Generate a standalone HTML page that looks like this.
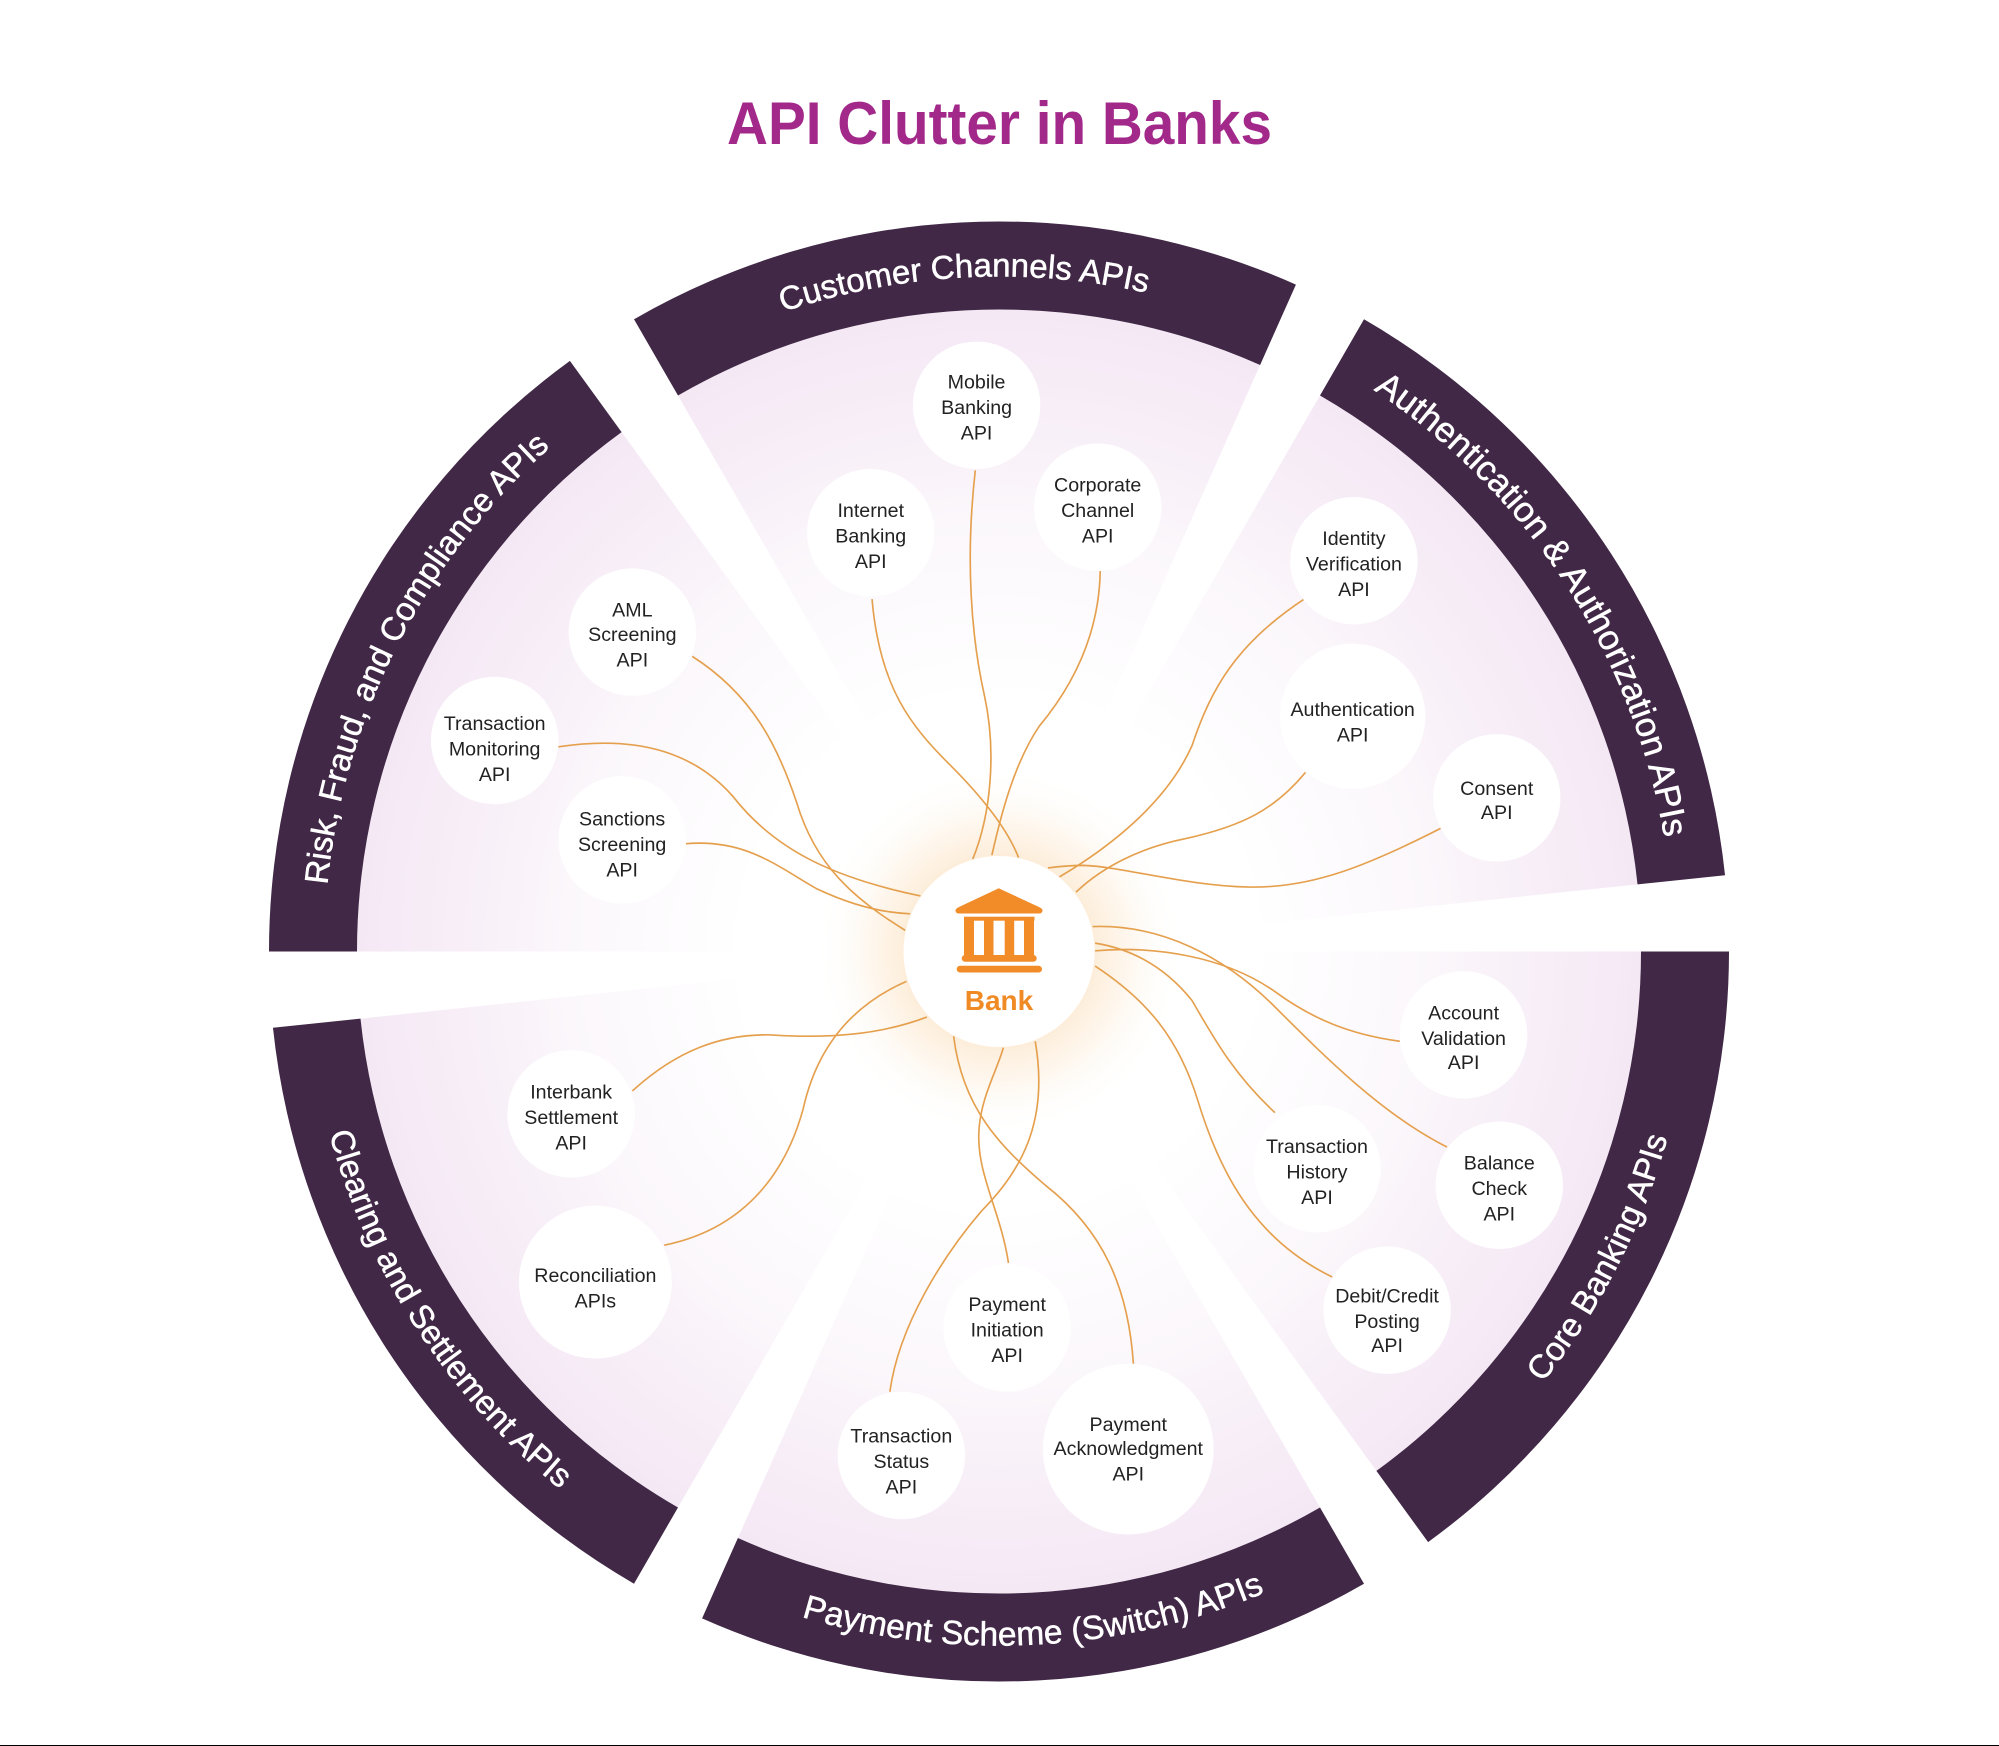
<!DOCTYPE html>
<html><head><meta charset="utf-8"><title>API Clutter in Banks</title>
<style>
html,body{margin:0;padding:0;background:#fff;width:1999px;height:1746px;overflow:hidden}
svg{display:block}
text{font-family:"Liberation Sans",sans-serif}
.band{fill:#412846}
.wedge{fill:url(#wg)}
.bt{fill:#fff;font-size:33px;text-anchor:middle;stroke:#fff;stroke-width:.5}
.c{fill:#fff}
.l{fill:#222;font-size:15.4px;text-anchor:middle}
.w{fill:none;stroke:#e5a04e;stroke-width:1.3}
</style></head>
<body>
<svg xmlns="http://www.w3.org/2000/svg" width="1999" height="1746" viewBox="0 0 1999 1746">
<defs>
<radialGradient id="wg" gradientUnits="userSpaceOnUse" cx="0" cy="0" r="642">
<stop offset="0" stop-color="#fff"/><stop offset=".4" stop-color="#fff"/><stop offset=".68" stop-color="#fbf7fb"/><stop offset=".85" stop-color="#f7eef7"/><stop offset="1" stop-color="#f4e8f4"/>
</radialGradient>
<radialGradient id="halo" gradientUnits="userSpaceOnUse" cx="999" cy="951.5" r="185">
<stop offset="0" stop-color="#fde6c8"/><stop offset=".52" stop-color="#fdeedb"/><stop offset=".72" stop-color="#fef8f0"/><stop offset="1" stop-color="#fff" stop-opacity="0"/>
</radialGradient>
<path id="cw" d="M0,-675 A675 675 0 0 1 546.1,-396.8"/>
<path id="ccw" d="M561.5,-407.9 A694 694 0 0 0 0,-694"/>
</defs>
<rect width="1999" height="1746" fill="#fff"/>
<rect y="1745" width="1999" height="1" fill="#000"/>
<text x="999.5" y="144" text-anchor="middle" font-size="60" font-weight="bold" fill="#a2288a" textLength="545" lengthAdjust="spacingAndGlyphs">API Clutter in Banks</text>

<g transform="translate(999 951.5)">
<g transform="rotate(-30)"><path class="wedge" d="M0,0 L0,-642 A642 642 0 0 1 519.4,-377.4 Z"/><path class="band" d="M0,-730 A730 730 0 0 1 590.6,-429.1 L519.4,-377.4 A642 642 0 0 0 0,-642 Z"/><text class="bt"><textPath href="#cw" startOffset="50%">Customer Channels APIs</textPath></text></g>
<g transform="rotate(30)"><path class="wedge" d="M0,0 L0,-642 A642 642 0 0 1 519.4,-377.4 Z"/><path class="band" d="M0,-730 A730 730 0 0 1 590.6,-429.1 L519.4,-377.4 A642 642 0 0 0 0,-642 Z"/><text class="bt" style="font-size:35px"><textPath href="#cw" startOffset="50%">Authentication &amp; Authorization APIs</textPath></text></g>
<g transform="rotate(90)"><path class="wedge" d="M0,0 L0,-642 A642 642 0 0 1 519.4,-377.4 Z"/><path class="band" d="M0,-730 A730 730 0 0 1 590.6,-429.1 L519.4,-377.4 A642 642 0 0 0 0,-642 Z"/><text class="bt"><textPath href="#ccw" startOffset="50%">Core Banking APIs</textPath></text></g>
<g transform="rotate(150)"><path class="wedge" d="M0,0 L0,-642 A642 642 0 0 1 519.4,-377.4 Z"/><path class="band" d="M0,-730 A730 730 0 0 1 590.6,-429.1 L519.4,-377.4 A642 642 0 0 0 0,-642 Z"/><text class="bt" style="font-size:33.5px"><textPath href="#ccw" startOffset="50%">Payment Scheme (Switch) APIs</textPath></text></g>
<g transform="rotate(210)"><path class="wedge" d="M0,0 L0,-642 A642 642 0 0 1 519.4,-377.4 Z"/><path class="band" d="M0,-730 A730 730 0 0 1 590.6,-429.1 L519.4,-377.4 A642 642 0 0 0 0,-642 Z"/><text class="bt"><textPath href="#ccw" startOffset="50%">Clearing and Settlement APIs</textPath></text></g>
<g transform="rotate(270)"><path class="wedge" d="M0,0 L0,-642 A642 642 0 0 1 519.4,-377.4 Z"/><path class="band" d="M0,-730 A730 730 0 0 1 590.6,-429.1 L519.4,-377.4 A642 642 0 0 0 0,-642 Z"/><text class="bt"><textPath href="#cw" startOffset="50%">Risk, Fraud, and Compliance APIs</textPath></text></g>
</g>

<circle cx="999" cy="951.5" r="185" fill="url(#halo)"/>

<g transform="scale(1.2749 1.2745)">
<g class="w">
<path d="M765,369 C757,440 762,500 772,545 C782,590 777,640 763,674"/>
<path d="M684,470 C690,540 715,570 745,600 C770,625 790,650 799,673"/>
<path d="M863,448 C862,500 840,540 815,570 C795,600 785,640 778,671"/>
<path d="M1023,470 C970,505 950,540 935,585 C915,630 870,665 831,688"/>
<path d="M1024,606 C1000,635 975,648 930,658 C895,665 865,680 844,700"/>
<path d="M1130,650 C1075,678 1030,697 980,696 C930,695 880,680 850,679 C838,679 830,680 822,681"/>
<path d="M1098,817 C1060,812 1030,800 1000,778 C960,750 905,742 859,746"/>
<path d="M1135,900 C1085,875 1040,830 1000,790 C960,750 910,725 857,727"/>
<path d="M1000,873 C970,845 955,820 935,785 C915,760 890,745 859,740"/>
<path d="M1045,1002 C990,975 960,930 940,865 C925,815 900,785 859,758"/>
<path d="M698,1092 C705,1040 740,985 770,950 C805,915 822,875 812,817"/>
<path d="M791,991 C785,950 765,920 768,885 C770,860 782,840 787,822"/>
<path d="M889,1070 C885,1010 865,965 820,930 C785,900 755,870 748,813"/>
<path d="M496,856 C530,825 565,811 605,812 C650,815 690,812 727,798"/>
<path d="M521,977 C580,965 615,925 630,870 C640,825 665,790 711,770"/>
<path d="M543,515 C590,545 610,585 625,630 C640,680 670,705 710,730"/>
<path d="M438,586 C490,578 540,585 575,625 C610,670 660,690 722,703"/>
<path d="M538,662 C585,658 610,680 640,697 C665,709 690,716 714,717"/>
</g>
<g class="c">
<circle cx="766" cy="318" r="50"/><circle cx="683" cy="418" r="50"/><circle cx="861" cy="398" r="50"/>
<circle cx="1062" cy="440" r="50"/><circle cx="1061" cy="562" r="57"/><circle cx="1174" cy="626" r="50"/>
<circle cx="1148" cy="812" r="50"/><circle cx="1176" cy="930" r="50"/><circle cx="1033" cy="917" r="50"/><circle cx="1088" cy="1028" r="50"/>
<circle cx="790" cy="1042" r="50"/><circle cx="885" cy="1137" r="67"/><circle cx="707" cy="1142" r="50"/>
<circle cx="467" cy="1006" r="60"/><circle cx="448" cy="874" r="50"/>
<circle cx="496" cy="496" r="50"/><circle cx="388" cy="581" r="50"/><circle cx="488" cy="659" r="50"/>
</g>
<g transform="translate(0 -.7)">
<text class="l" x="766" y="305.5">Mobile</text><text class="l" x="766" y="325.5">Banking</text><text class="l" x="766" y="345.5">API</text>
<text class="l" x="683" y="406.5">Internet</text><text class="l" x="683" y="426.5">Banking</text><text class="l" x="683" y="446.5">API</text>
<text class="l" x="861" y="386.5">Corporate</text><text class="l" x="861" y="406.5">Channel</text><text class="l" x="861" y="426.5">API</text>
<text class="l" x="1062" y="428.5">Identity</text><text class="l" x="1062" y="448.5">Verification</text><text class="l" x="1062" y="468.5">API</text>
<text class="l" x="1061" y="562.5">Authentication</text><text class="l" x="1061" y="582.5">API</text>
<text class="l" x="1174" y="624.5">Consent</text><text class="l" x="1174" y="643.5">API</text>
<text class="l" x="1148" y="800.5">Account</text><text class="l" x="1148" y="820.5">Validation</text><text class="l" x="1148" y="839.5">API</text>
<text class="l" x="1176" y="918.5">Balance</text><text class="l" x="1176" y="938.5">Check</text><text class="l" x="1176" y="958.5">API</text>
<text class="l" x="1033" y="905.5">Transaction</text><text class="l" x="1033" y="925.5">History</text><text class="l" x="1033" y="945.5">API</text>
<text class="l" x="1088" y="1022.5">Debit/Credit</text><text class="l" x="1088" y="1042.5">Posting</text><text class="l" x="1088" y="1061.5">API</text>
<text class="l" x="790" y="1029.5">Payment</text><text class="l" x="790" y="1049.5">Initiation</text><text class="l" x="790" y="1069.5">API</text>
<text class="l" x="885" y="1123.5">Payment</text><text class="l" x="885" y="1142.5">Acknowledgment</text><text class="l" x="885" y="1162.5">API</text>
<text class="l" x="707" y="1132.5">Transaction</text><text class="l" x="707" y="1152.5">Status</text><text class="l" x="707" y="1172.5">API</text>
<text class="l" x="467" y="1006.5">Reconciliation</text><text class="l" x="467" y="1026.5">APIs</text>
<text class="l" x="448" y="862.5">Interbank</text><text class="l" x="448" y="882.5">Settlement</text><text class="l" x="448" y="902.5">API</text>
<text class="l" x="496" y="484.5">AML</text><text class="l" x="496" y="503.5">Screening</text><text class="l" x="496" y="523.5">API</text>
<text class="l" x="388" y="573.5">Transaction</text><text class="l" x="388" y="593.5">Monitoring</text><text class="l" x="388" y="613.5">API</text>
<text class="l" x="488" y="648.5">Sanctions</text><text class="l" x="488" y="668.5">Screening</text><text class="l" x="488" y="688.5">API</text>
</g>
</g>

<circle cx="999" cy="951.5" r="95.5" fill="#fff"/>
<g fill="#f28c28">
<path d="M998.7,888.3 L1039,907 Q1044,909.5 1042,912 Q1041.5,913.5 1039,913.5 L959,913.5 Q956.5,913.5 956,912 Q954,909.5 959,907 Z"/>
<rect x="964" y="916.7" width="70.5" height="4"/>
<rect x="964" y="920" width="10" height="36"/><rect x="984" y="920" width="9.5" height="36"/><rect x="1004.7" y="920" width="9.5" height="36"/><rect x="1024" y="920" width="10" height="36"/>
<rect x="961.7" y="955" width="75" height="6.8" rx="3.4"/>
<rect x="956.7" y="965.7" width="85.3" height="6.8" rx="3.4"/>
<text x="999" y="1010" text-anchor="middle" font-size="28" font-weight="bold" fill="#f08a24">Bank</text>
</g>
</svg>
</body></html>
